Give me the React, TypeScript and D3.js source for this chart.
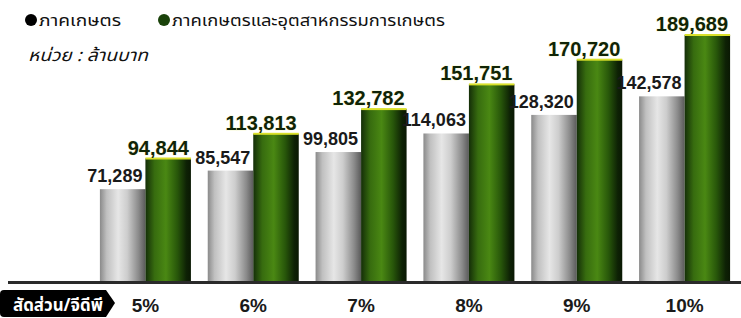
import React from "react";
import * as d3 from "d3";

const categories = ["5%", "6%", "7%", "8%", "9%", "10%"];
const agriValues = [71289, 85547, 99805, 114063, 128320, 142578];
const agroValues = [94844, 113813, 132782, 151751, 170720, 189689];
const seriesKeys = ["agri", "agro"];
const legendLabels = ["ภาคเกษตร", "ภาคเกษตรและอุตสาหกรรมการเกษตร"];
const unitLabel = "หน่วย : ล้านบาท";
const axisLabel = "สัดส่วน/จีดีพี";

const W = 741;
const H = 318;
const NUM_FONT = "'Liberation Sans', Arial, sans-serif";
const THAI_FONT = "'Noto Sans Thai', 'Noto Sans', 'DejaVu Sans', sans-serif";

export default function App() {
  const baseline = 282;
  const x = d3
    .scaleBand<string>()
    .domain(categories)
    .range([91.5, 738.5])
    .paddingInner(0.156)
    .paddingOuter(0.078);
  const inner = d3.scaleBand<string>().domain(seriesKeys).range([0, x.bandwidth()]);
  const y = d3.scaleLinear().domain([0, d3.max(agroValues) as number]).range([baseline, 35]);
  const fmt = d3.format(",");

  const data = categories.map((c, i) => ({ c, agri: agriValues[i], agro: agroValues[i] }));

  return (
    <div style={{ position: "fixed", left: 0, top: 0, width: W, height: H, background: "#fff" }}>
      <svg width={W} height={H} style={{ display: "block" }}>
        <defs>
          <linearGradient id="gGray" x1="0" x2="1" y1="0" y2="0">
            <stop offset="0" stopColor="#8a8a8a" />
            <stop offset="0.15" stopColor="#c0c0c0" />
            <stop offset="0.4" stopColor="#e6e6e6" />
            <stop offset="0.6" stopColor="#cdcdcd" />
            <stop offset="0.85" stopColor="#8a8a8a" />
            <stop offset="1" stopColor="#5a5a5a" />
          </linearGradient>
          <linearGradient id="gGreen" x1="0" x2="1" y1="0" y2="0">
            <stop offset="0" stopColor="#142e08" />
            <stop offset="0.2" stopColor="#376c0f" />
            <stop offset="0.45" stopColor="#4a8813" />
            <stop offset="0.7" stopColor="#28570a" />
            <stop offset="0.9" stopColor="#0e2205" />
            <stop offset="1" stopColor="#0a1803" />
          </linearGradient>
        </defs>

        {/* Legend */}
        <circle cx={31} cy={20} r={6} fill="#000" />
        <text x={39} y={26} fontFamily={THAI_FONT} fontSize={16} fill="#111" textLength={82} lengthAdjust="spacingAndGlyphs">
          {legendLabels[0]}
        </text>
        <circle cx={164} cy={20} r={6} fill="#1a420a" />
        <text x={172} y={26} fontFamily={THAI_FONT} fontSize={16} fill="#111" textLength={273} lengthAdjust="spacingAndGlyphs">
          {legendLabels[1]}
        </text>
        <text x={28} y={61} fontFamily={THAI_FONT} fontSize={17} fontStyle="italic" fill="#111" textLength={120} lengthAdjust="spacingAndGlyphs">
          {unitLabel}
        </text>

        {/* Bars */}
        {data.map((d) => {
          const gx = x(d.c) as number;
          const ax = gx + (inner("agri") as number);
          const bx = gx + (inner("agro") as number);
          const bw = inner.bandwidth();
          return (
            <g key={d.c}>
              <rect x={ax} y={y(d.agri)} width={bw} height={baseline - y(d.agri)} fill="url(#gGray)" />
              <rect x={bx} y={y(d.agro)} width={bw} height={baseline - y(d.agro)} fill="url(#gGreen)" />
              <rect x={bx} y={y(d.agro) - 1} width={bw} height={2} fill="#d9e02a" />
              <text
                x={ax + bw - 3}
                y={y(d.agri) - 7}
                textAnchor="end"
                fontFamily={NUM_FONT}
                fontWeight="bold"
                fontSize={18}
                fill="#1a1a1a"
              >
                {fmt(d.agri)}
              </text>
              <text
                x={bx + bw - 2}
                y={y(d.agro) - 4}
                textAnchor="end"
                fontFamily={NUM_FONT}
                fontWeight="bold"
                fontSize={20}
                fill="#102406"
                stroke="#e6ec70"
                strokeWidth={1}
                strokeOpacity={0.3}
                paintOrder="stroke"
              >
                {fmt(d.agro)}
              </text>
              <text
                x={gx + x.bandwidth() / 2}
                y={312}
                textAnchor="middle"
                fontFamily={NUM_FONT}
                fontWeight="bold"
                fontSize={19}
                fill="#1a1a1a"
              >
                {d.c}
              </text>
            </g>
          );
        })}

        {/* Baseline */}
        <rect x={8} y={281} width={W - 8} height={3} fill="#2a2a2a" />

        {/* Label box */}
        <path d="M4,290 L106,290 L115,303 L106,317 L4,317 Q0,317 0,313 L0,294 Q0,290 4,290 Z" fill="#000" />
        <text x={13} y={311} fontFamily={THAI_FONT} fontWeight="bold" fontSize={18} fill="#fff" textLength={90} lengthAdjust="spacingAndGlyphs">
          {axisLabel}
        </text>
      </svg>
    </div>
  );
}
